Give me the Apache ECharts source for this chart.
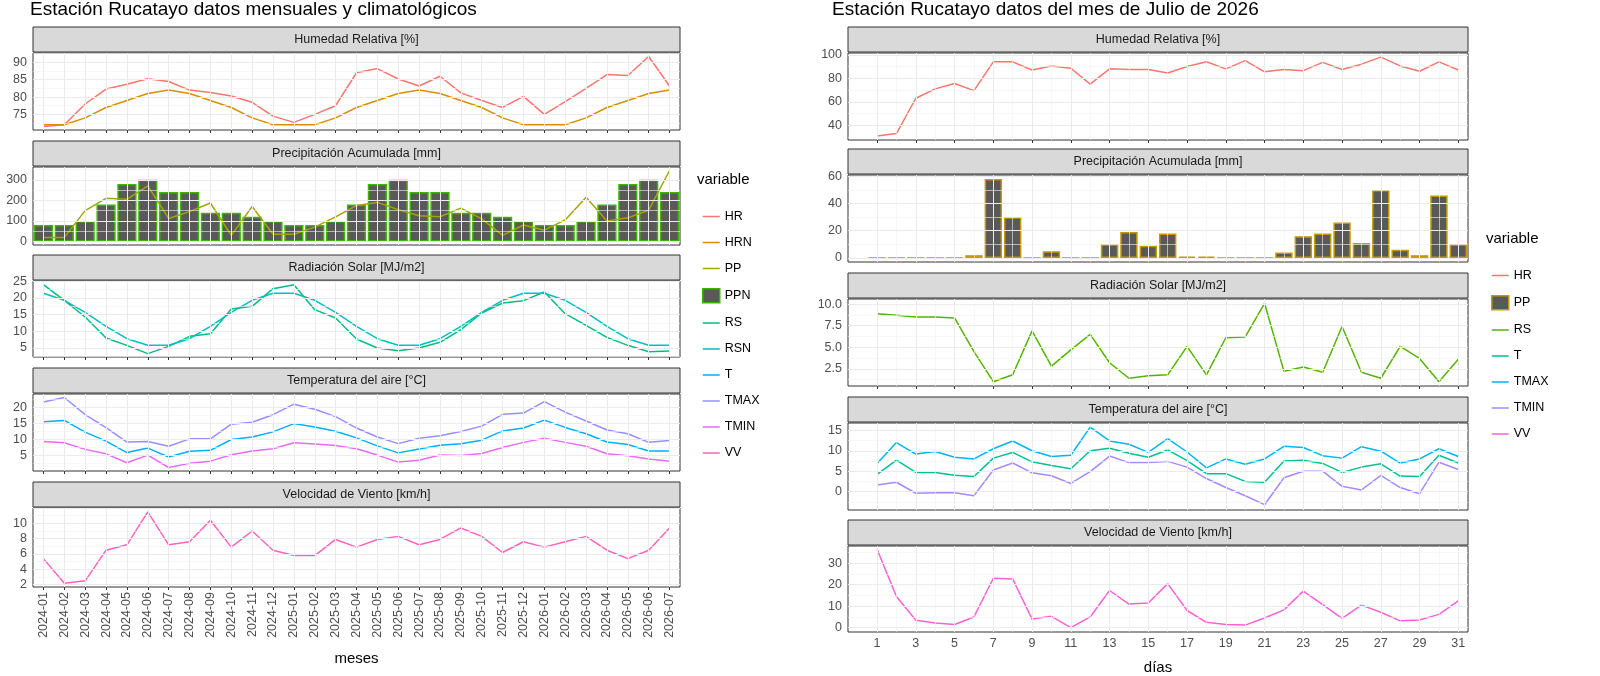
<!DOCTYPE html>
<html><head><meta charset="utf-8">
<script src="https://cdn.jsdelivr.net/npm/echarts@6/dist/echarts.min.js"></script>
<style>html,body{margin:0;padding:0;background:#fff}#c{width:1600px;height:676px}</style>
</head><body><div id="c"></div>
<script>
const meses = ['2024-01','2024-02','2024-03','2024-04','2024-05','2024-06','2024-07','2024-08','2024-09','2024-10','2024-11','2024-12','2025-01','2025-02','2025-03','2025-04','2025-05','2025-06','2025-07','2025-08','2025-09','2025-10','2025-11','2025-12','2026-01','2026-02','2026-03','2026-04','2026-05','2026-06','2026-07'];
const mHR  = [71.5,72,78,82.3,83.7,85.3,84.5,82,81.3,80.3,78.5,74.5,72.7,75,77.5,87,88.2,85.2,83.2,86,81.2,79,77,80.2,75,78.7,82.5,86.5,86.2,91.7,83.2];
const mHRN = [72,72,74,77,79,81,82,81,79,77,74,72,72,72,74,77,79,81,82,81,79,77,74,72,72,72,74,77,79,81,82];
const mPPN = [80,80,100,180,280,300,240,240,140,140,120,100,80,80,100,180,280,300,240,240,140,140,120,100,80,80,100,180,280,300,240];
const mPP  = [20,20,150,210,205,270,112,145,187,30,170,35,35,70,120,175,190,155,125,120,162,110,30,80,55,105,215,100,115,152,345];
const mRS  = [24,19.3,14.3,8,5.8,3.3,5.5,8.5,9.3,16.7,17.5,22.8,24,16.5,14,7.7,5,4.2,5,6.7,10.5,15.5,18.5,19.2,21.8,15.3,11.8,8.2,5.8,3.9,4.1];
const mRSN = [21.4,19.3,15.7,11.5,7.8,5.8,5.8,7.8,11.5,15.7,19.3,21.4,21.4,19.3,15.7,11.5,7.8,5.8,5.8,7.8,11.5,15.7,19.3,21.4,21.4,19.3,15.7,11.5,7.8,5.8,5.8];
const mTMAX= [21.8,23.2,17.8,13.7,9.2,9.4,7.9,10.2,10.2,14.8,15.4,17.8,21.1,19.5,17.2,13.6,10.8,8.7,10.4,11.2,12.5,14.2,17.9,18.3,21.9,18.6,15.8,13,11.8,9.1,9.7];
const mT   = [15.6,16,12.3,9.5,5.9,7.3,4.5,6.3,6.6,10,10.8,12.4,15,13.9,12.6,10.5,8,5.8,7,8.2,8.7,9.8,12.7,13.6,16.1,13.8,11.8,9.2,8.4,6.4,6.4];
const mTMIN= [9.4,9,6.9,5.5,2.7,5.1,1.2,2.5,3.2,5.2,6.4,7.1,9,8.6,8.1,7.1,5.1,2.9,3.5,5.1,5,5.6,7.5,9.1,10.4,9.1,7.9,5.5,4.9,3.9,3.2];
const mVV  = [5.4,2.2,2.5,6.5,7.2,11.5,7.2,7.6,10.4,6.9,9,6.5,5.8,5.8,7.9,6.9,7.9,8.3,7.2,7.9,9.4,8.3,6.2,7.6,6.9,7.6,8.3,6.5,5.4,6.5,9.4];

const dias = Array.from({length:31},(_, i)=>String(i+1));
const dHR  = [31,33,63,71,75.5,69.5,94,94,87,90.5,88.5,75,88,87.5,87.5,84.5,90,94,88,95,85.5,87.5,86.5,93.5,87.5,92,98,90.5,86,94,87];
const dPP  = [0,0,0,0,0,2,58,30,0,5,0,0,10,19,9,18,1,1,0,0,0,4,16,18,26,11,50,6,2,46,10];
const dRS  = [8.9,8.7,8.5,8.5,8.4,4.5,1,1.8,6.9,2.8,4.7,6.5,3.2,1.4,1.7,1.8,5.1,1.8,6.1,6.2,10.1,2.2,2.7,2.1,7.4,2.1,1.4,5.1,3.7,1,3.6];
const dTMAX= [6.9,12,9.2,9.8,8.4,8,10.5,12.4,10,8.6,8.9,15.8,12.4,11.6,9.6,13,9.7,5.8,8,6.7,8,11.1,10.8,8.8,8.2,11,9.9,7,8,10.5,8.6];
const dT   = [4.2,7.7,4.7,4.7,4,3.7,8.2,9.6,7.3,6.4,5.6,10,10.6,9.4,8.4,10.2,7.6,4.4,4.4,2.5,2.3,7.5,7.7,6.9,4.7,6,6.8,3.8,3.7,8.9,7];
const dTMIN= [1.6,2.3,-0.4,-0.3,-0.3,-1,5.3,7,4.6,3.9,2,4.9,8.7,7.1,7.1,7.4,6,3.2,1,-1,-3.2,3.4,5,5,1.3,0.4,4,1,-0.5,7.2,5.4];
const dVV  = [36.5,14.5,3.5,2.2,1.5,5,23,22.7,4,5.3,0,5,17.3,11,11.5,20.5,8,2.5,1.5,1.2,4.5,8.3,17,10.7,4.3,10.5,7.2,3.2,3.6,6.2,12.5];

const strips = ['Humedad Relativa [%]','Precipitación Acumulada [mm]','Radiación Solar [MJ/m2]','Temperatura del aire [°C]','Velocidad de Viento [km/h]'];
const ticksL = [['75','80','85','90'],['0','100','200','300'],['5','10','15','20','25'],['5','10','15','20'],['2','4','6','8','10']];
const ticksR = [['40','60','80','100'],['0','20','40','60'],['2.5','5.0','7.5','10.0'],['0','5','10','15'],['0','10','20','30']];

const F = 'Liberation Sans, Arial, sans-serif';
const chart = echarts.init(document.getElementById('c'));
const grids=[], xAxes=[], yAxes=[], series=[], graphics=[];

const L = {left:33,width:647,tops:[53,167,281,394,508],h:[77,78,76,77,79],
  y:[[70.5,92.7,0.5,2.5],[-17,362,1,50],[2.3,25.1,0.1,2.5],[0.1,24.3,0.1,2.5],[1.7,12,0.1,1]]};
const R = {left:848,width:620,tops:[53,175,299,423,546],h:[87,87,87,87,87],
  y:[[27.5,101.5,0.5,10],[-3,61,1,10],[0.5,10.6,0.5,1.25],[-4.5,16.8,0.5,2.5],[-2,38,1,5]]};

function addPanel(P, i, cats, isRight){
  const gi = grids.length;
  grids.push({left:P.left, top:P.tops[i], width:P.width, height:P.h[i], show:true, borderColor:'#333', borderWidth:1, backgroundColor:'#fff'});
  const bottom = i===4;
  const tl = (isRight?ticksR:ticksL)[i];
  const tv = tl.map(Number);
  const oddF = (idx,v)=>v!=='' && (+v)%2===1;
  xAxes.push({type:'category', gridIndex:gi, data:cats, boundaryGap:true,
    axisLine:{show:false}, splitLine:{show:false},
    axisTick:{show:true, alignWithLabel:true, length:3, lineStyle:{color:'#333'}, interval: isRight ? oddF : 0},
    axisLabel:{show:bottom, color:'#4D4D4D', fontFamily:F, fontSize:12.5, rotate: isRight?0:90, margin:5, interval: isRight ? oddF : 0},
    name: bottom ? (isRight?'días':'meses') : '', nameLocation:'middle', nameGap: isRight?28:64,
    nameTextStyle:{fontFamily:F, fontSize:15, color:'#000'}});
  const [mn,mx,step,minor] = P.y[i];
  yAxes.push({type:'value', gridIndex:gi, min:mn, max:mx, interval:step,
    axisLine:{show:false}, axisTick:{show:false}, splitLine:{show:false},
    axisLabel:{color:'#4D4D4D', fontFamily:F, fontSize:12.5, margin:6,
      formatter:(v)=>{ const k = tv.findIndex(t=>Math.abs(t-v)<1e-6); return k<0?'':tl[k]; }}});
  const ml = [];
  cats.forEach(c=>{ if(c==='') return;
    const major = !isRight || (+c)%2===1;
    ml.push({xAxis:c, lineStyle:{color: major?'#EBEBEB':'#F4F4F4', width: major?1:0.6, type:'solid'}});
  });
  const lo = Math.ceil(mn/minor)*minor;
  for(let v=lo; v<=mx+1e-9; v+=minor){
    const isMaj = tv.length>1 && Math.abs(((v-tv[0])/(tv[1]-tv[0]))-Math.round((v-tv[0])/(tv[1]-tv[0])))<1e-6;
    ml.push({yAxis:+v.toFixed(4), lineStyle:{color: isMaj?'#EBEBEB':'#F4F4F4', width: isMaj?1:0.6, type:'solid'}});
  }
  series.push({type:'line', xAxisIndex:gi, yAxisIndex:gi, data:[], z:1, silent:true,
    markLine:{silent:true, symbol:'none', label:{show:false}, animation:false, data:ml}});
  const top = P.tops[i]-26;
  graphics.push({type:'rect', shape:{x:P.left, y:top, width:P.width, height:25},
    style:{fill:'#D9D9D9', stroke:'#333', lineWidth:1}, z:10});
  graphics.push({type:'text', x:P.left+P.width/2, y:top+12.5,
    style:{text:strips[i], fill:'#1A1A1A', font:'12.5px '+F, textAlign:'center', textVerticalAlign:'middle'}, z:11});
  return gi;
}
function line(gi,name,data,color){
  series.push({type:'line', name, xAxisIndex:gi, yAxisIndex:gi, data, symbol:'none', z:3,
    lineStyle:{color, width:1.5}, itemStyle:{color}, animation:false});
}
function bar(gi,name,data,border,cw){
  series.push({type:'bar', name, xAxisIndex:gi, yAxisIndex:gi, data, z:2, barCategoryGap:cw,
    itemStyle:{color:'#595959', borderColor:border, borderWidth:1.5}, animation:false});
}

let g = addPanel(L,0,meses,false); line(g,'HR',mHR,'#F8766D'); line(g,'HRN',mHRN,'#D89000');
g = addPanel(L,1,meses,false); bar(g,'PPN',mPPN,'#39B600','8%'); line(g,'PP',mPP,'#A3A500');
g = addPanel(L,2,meses,false); line(g,'RS',mRS,'#00BF7D'); line(g,'RSN',mRSN,'#00BFC4');
g = addPanel(L,3,meses,false); line(g,'T',mT,'#00B0F6'); line(g,'TMAX',mTMAX,'#9590FF'); line(g,'TMIN',mTMIN,'#E76BF3');
g = addPanel(L,4,meses,false); line(g,'VV',mVV,'#FF62BC');

const dc = [''].concat(dias);
const pad = a => ['-'].concat(a);
const Z='\u200b';
g = addPanel(R,0,dc,true); line(g,'HR'+Z,pad(dHR),'#F8766D');
g = addPanel(R,1,dc,true); bar(g,'PP'+Z,pad(dPP),'#C49A00','10%');
g = addPanel(R,2,dc,true); line(g,'RS'+Z,pad(dRS),'#53B400');
g = addPanel(R,3,dc,true); line(g,'T'+Z,pad(dT),'#00C094'); line(g,'TMAX'+Z,pad(dTMAX),'#00B6EB'); line(g,'TMIN'+Z,pad(dTMIN),'#A58AFF');
g = addPanel(R,4,dc,true); line(g,'VV'+Z,pad(dVV),'#FB61D7');

const legStyle = {orient:'vertical', itemWidth:17, itemHeight:14, itemGap:13, selectedMode:false,
  textStyle:{fontFamily:F, fontSize:12.5, color:'#000'}};
function legItems(names, box){
  return names.map(n=> box.includes(n) ? {name:n, icon:'rect', itemStyle:{color:'#595959', borderWidth:1.5}} : {name:n, icon:'path://M0,7L17,7L17,8.5L0,8.5Z'});
}
const legends = [
  Object.assign({left:697, top:205, data:legItems(['HR','HRN','PP','PPN','RS','RSN','T','TMAX','TMIN','VV'],['PPN'])}, legStyle),
  Object.assign({left:1486, top:264, data:legItems(['HR'+Z,'PP'+Z,'RS'+Z,'T'+Z,'TMAX'+Z,'TMIN'+Z,'VV'+Z],['PP'+Z])}, legStyle)
];
graphics.push({type:'text', left:30, top:0, style:{text:'Estación Rucatayo datos mensuales y climatológicos', fill:'#000', font:'19px '+F}});
graphics.push({type:'text', left:832, top:0, style:{text:'Estación Rucatayo datos del mes de Julio de 2026', fill:'#000', font:'19px '+F}});
graphics.push({type:'text', left:697, top:172, style:{text:'variable', fill:'#000', font:'15px '+F}});
graphics.push({type:'text', left:1486, top:231, style:{text:'variable', fill:'#000', font:'15px '+F}});

chart.setOption({animation:false, grid:grids, xAxis:xAxes, yAxis:yAxes, series, legend:legends, graphic:graphics});
</script></body></html>
